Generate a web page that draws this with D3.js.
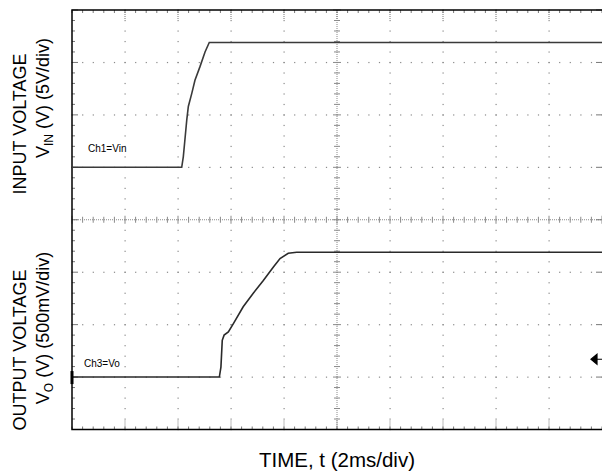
<!DOCTYPE html>
<html>
<head>
<meta charset="utf-8">
<script src="https://cdn.jsdelivr.net/npm/d3@7"></script>
<style>
  body { margin: 0; background: #fff; }
  text { font-family: "Liberation Sans", Arial, sans-serif; fill: #000; }
</style>
</head>
<body>
<svg id="scope" width="602" height="476"></svg>
<script>
// time in ms, voltages
const inTime = [0, 4.14, 4.20, 4.26, 4.33, 4.39, 4.52, 4.64, 4.83, 5.02, 5.18, 20];
const inVolts = [0, 0, 1.0, 2.6, 4.5, 5.8, 7.05, 8.3, 9.6, 11.0, 11.9, 11.9];
const outTime = [0, 5.56, 5.62, 5.67, 5.74, 5.90, 6.09, 6.46, 6.84, 7.22, 7.60, 7.85, 8.16, 8.48, 20];
const outVolts = [0, 0, 0.095, 0.35, 0.40, 0.43, 0.51, 0.67, 0.80, 0.92, 1.05, 1.13, 1.18, 1.19, 1.19];
const xDivs = 10, yDivs = 8;

let svg = d3.select("#scope"),
    pl = 72, pr = 602, pt = 10, pb = 429.5,
    x = d3.scaleLinear().domain([0, 20]).range([pl, pr]),
    yIn = d3.scaleLinear().domain([-25, 15]).range([pb, pt]),
    yOut = d3.scaleLinear().domain([-0.5, 3.5]).range([pb, pt]),
    gx = d3.scaleLinear().domain([0, xDivs]).range([pl, pr]),
    gy = d3.scaleLinear().domain([0, yDivs]).range([pt, pb]);

let grid = svg.append("g").attr("class", "grid").attr("fill", "#8a8a8a");
let xSub = d3.range(0, xDivs * 5 + 1).map(j => j / 5),
    ySub = d3.range(0, yDivs * 5 + 1).map(j => j / 5);

// dotted graticule
d3.range(1, xDivs).filter(k => k !== 5).forEach(k => {
    grid.selectAll(null).data(ySub).enter().append("rect")
        .attr("x", gx(k) - 0.5).attr("y", d => gy(d) - 0.5)
        .attr("width", 1.2).attr("height", 1.2);
});
d3.range(1, yDivs).filter(k => k !== 4).forEach(k => {
    grid.selectAll(null).data(xSub).enter().append("rect")
        .attr("x", d => gx(d) - 0.5).attr("y", gy(k) - 0.5)
        .attr("width", 1.2).attr("height", 1.2);
});

// center axes with minor ticks
let axes = svg.append("g").attr("stroke", "#8a8a8a").attr("stroke-width", 1);
axes.append("line").attr("x1", pl).attr("x2", pr).attr("y1", gy(4)).attr("y2", gy(4))
    .attr("stroke-dasharray", "1,1");
axes.append("line").attr("x1", gx(5)).attr("x2", gx(5)).attr("y1", pt).attr("y2", pb)
    .attr("stroke-dasharray", "1,1");
axes.selectAll(null).data(xSub).enter().append("line")
    .attr("x1", d => gx(d)).attr("x2", d => gx(d))
    .attr("y1", d => gy(4) - (d % 1 === 0 ? 4 : 3)).attr("y2", d => gy(4) + (d % 1 === 0 ? 4 : 3));
axes.selectAll(null).data(ySub).enter().append("line")
    .attr("y1", d => gy(d)).attr("y2", d => gy(d))
    .attr("x1", d => gx(5) - (d % 1 === 0 ? 4 : 3)).attr("x2", d => gx(5) + (d % 1 === 0 ? 4 : 3));

// border ticks
let bt = svg.append("g").attr("stroke", "#777").attr("stroke-width", 1);
bt.selectAll(null).data(xSub).enter().append("line")
    .attr("x1", d => gx(d)).attr("x2", d => gx(d)).attr("y1", pt).attr("y2", pt + 3);
bt.selectAll(null).data(xSub).enter().append("line")
    .attr("x1", d => gx(d)).attr("x2", d => gx(d)).attr("y1", pb).attr("y2", pb - 3);
bt.selectAll(null).data(ySub).enter().append("line")
    .attr("y1", d => gy(d)).attr("y2", d => gy(d)).attr("x1", pl).attr("x2", d => pl + (d % 1 === 0 ? 6 : 3));
bt.selectAll(null).data(ySub).enter().append("line")
    .attr("y1", d => gy(d)).attr("y2", d => gy(d)).attr("x1", pr).attr("x2", d => pr - (d % 1 === 0 ? 6 : 0));
bt.selectAll(null).data(d3.range(1, xDivs)).enter().append("line")
    .attr("x1", d => gx(d)).attr("x2", d => gx(d)).attr("y1", pt).attr("y2", pt + 10)
    .attr("stroke-dasharray", "1,1");
bt.selectAll(null).data(d3.range(1, xDivs)).enter().append("line")
    .attr("x1", d => gx(d)).attr("x2", d => gx(d)).attr("y1", pb).attr("y2", pb - 10)
    .attr("stroke-dasharray", "1,1");

// frame
let frame = svg.append("g").attr("stroke", "#000").attr("stroke-width", 1.5).attr("fill", "none");
frame.append("path").attr("d", `M${pr},${pt}H${pl}V${pb}H${pr}`);

// traces
let lineIn = d3.line().x((d, i) => x(inTime[i])).y(d => yIn(d)),
    lineOut = d3.line().x((d, i) => x(outTime[i])).y(d => yOut(d));
svg.append("path").datum(inVolts).attr("d", lineIn)
    .attr("fill", "none").attr("stroke", "#3a3a3a").attr("stroke-width", 1.6);
svg.append("path").datum(outVolts).attr("d", lineOut)
    .attr("fill", "none").attr("stroke", "#2a2a2a").attr("stroke-width", 1.6);

// channel markers
svg.append("rect").attr("x", pl - 1.5).attr("y", yOut(0) - 6).attr("width", 3).attr("height", 13).attr("fill", "#000");
svg.append("path")
    .attr("d", `M${pr - 11},${yOut(0.17)}l6,-5v10z M${pr - 6},${yOut(0.17)}H${pr}`)
    .attr("fill", "#000").attr("stroke", "#000").attr("stroke-width", 1.2);

// channel labels
svg.append("text").attr("x", 88).attr("y", 152).attr("font-size", 10).text("Ch1=Vin");
svg.append("text").attr("x", 84).attr("y", 367).attr("font-size", 10).text("Ch3=Vo");

// axis titles
svg.append("text").attr("x", (pl + pr) / 2).attr("y", 467)
    .attr("text-anchor", "middle").attr("font-size", 20.5).text("TIME, t (2ms/div)");

function yTitle(cx, cy, line1, sym, sub, rest, dyOff) {
    let g = svg.append("g").attr("transform", `translate(${cx},${cy}) rotate(-90)`);
    g.append("text").attr("text-anchor", "middle").attr("y", 0).attr("font-size", 18).text(line1);
    let t = g.append("text").attr("text-anchor", "middle").attr("x", dyOff).attr("y", 23).attr("font-size", 18);
    t.append("tspan").text(sym);
    t.append("tspan").attr("font-size", 12).attr("dy", 4).text(sub);
    t.append("tspan").attr("dy", -4).text(rest);
}
yTitle(26, 124, "INPUT VOLTAGE", "V", "IN", " (V) (5V/div)", 26);
yTitle(26, 350, "OUTPUT VOLTAGE", "V", "O", " (V) (500mV/div)", 22);
</script>
</body>
</html>
